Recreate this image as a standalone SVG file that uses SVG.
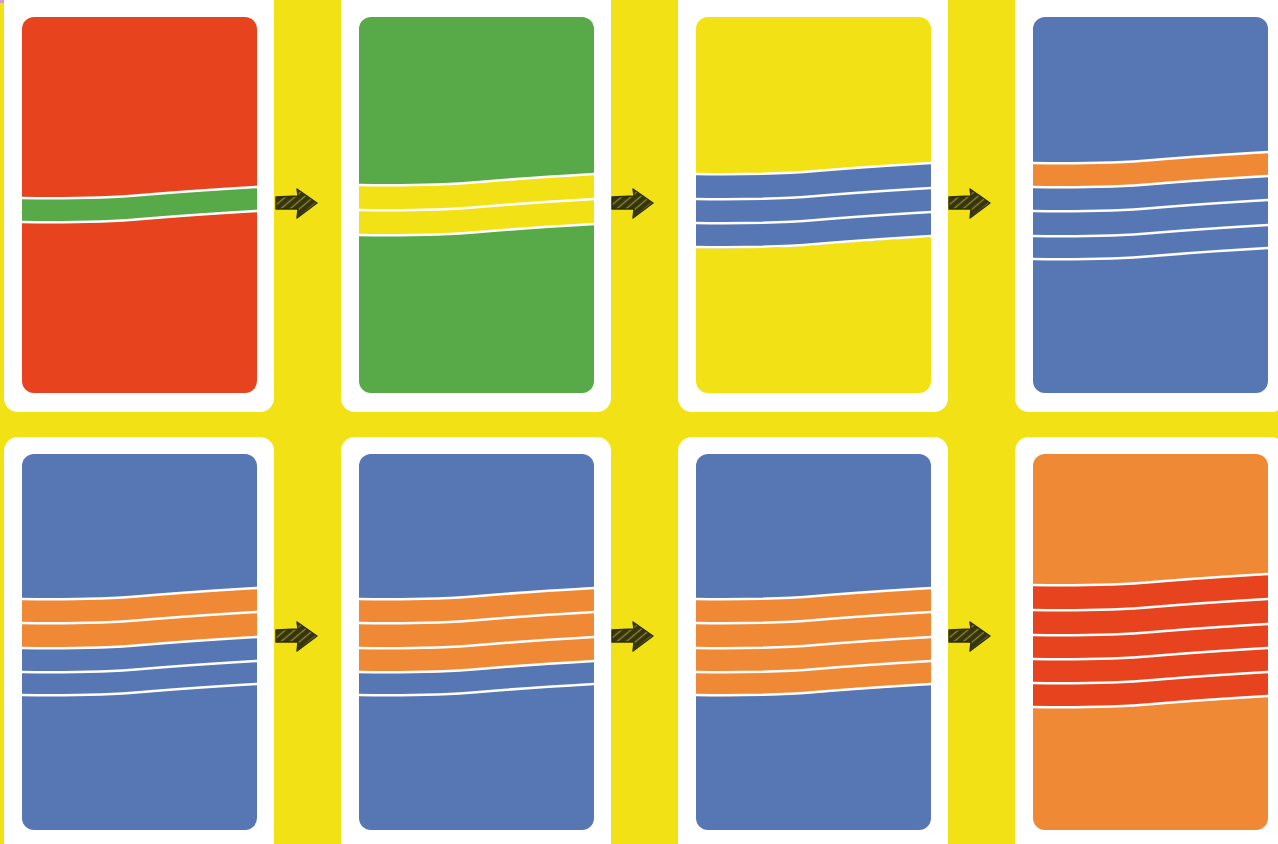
<svg xmlns="http://www.w3.org/2000/svg" xmlns:xlink="http://www.w3.org/1999/xlink" width="1278" height="844" viewBox="0 0 1278 844">
<style>
.outer{fill:#ffffff}
.red{fill:#E8431F}
.green{fill:#57AA47}
.yellow{fill:#F2E215}
.blue{fill:#5676B4}
.orange{fill:#EF8936}
.wl{fill:none;stroke:#ffffff;stroke-width:2.6;stroke-linecap:round}
</style>
<defs>
<path id="band" d="M0,0 C40,0.5 80,0.5 120,-3 C160,-6.5 200,-9 235,-11 L235,14 C200,16 160,18.5 120,22 C80,25.5 40,25.5 0,25 Z"/>
<path id="line" d="M0,0 C40,0.5 80,0.5 120,-3 C160,-6.5 200,-9 235,-11"/>
<pattern id="hatch" width="6" height="6" patternUnits="userSpaceOnUse" patternTransform="rotate(-40)">
<rect width="6" height="6" fill="#35340f"/>
<line x1="0" y1="1.5" x2="6" y2="1.5" stroke="#8c8a2e" stroke-width="1.3"/>
</pattern>
<g id="arrow">
<path d="M0,-6 L22,-7 L21,-14 L41,0 L21,15 L22,6 L0,6 Z" fill="url(#hatch)" stroke="#2f2e0c" stroke-width="1.4" stroke-linejoin="round"/>
</g>
</defs>
<rect width="1278" height="844" fill="#F2E215"/>
<rect x="0" y="0" width="42" height="3" fill="#d49ad0"/>

<g id="card1">
<rect class="outer" x="4" y="-14" width="270" height="426" rx="14"/>
<rect class="red" x="22" y="17" width="235" height="376" rx="12"/>
<use href="#band" class="green" x="22" y="198"/>
<use href="#line" class="wl" x="22" y="198"/>
<use href="#line" class="wl" x="22" y="222"/>
</g>

<g id="card2">
<rect class="outer" x="341" y="-14" width="270" height="426" rx="14"/>
<rect class="green" x="359" y="17" width="235" height="376" rx="12"/>
<use href="#band" class="yellow" x="359" y="185"/>
<use href="#band" class="yellow" x="359" y="210"/>
<use href="#line" class="wl" x="359" y="185"/>
<use href="#line" class="wl" x="359" y="210"/>
<use href="#line" class="wl" x="359" y="235"/>
</g>

<g id="card3">
<rect class="outer" x="678" y="-14" width="270" height="426" rx="14"/>
<rect class="yellow" x="696" y="17" width="235" height="376" rx="12"/>
<use href="#band" class="blue" x="696" y="174"/>
<use href="#band" class="blue" x="696" y="199"/>
<use href="#band" class="blue" x="696" y="223"/>
<use href="#line" class="wl" x="696" y="174"/>
<use href="#line" class="wl" x="696" y="199"/>
<use href="#line" class="wl" x="696" y="223"/>
<use href="#line" class="wl" x="696" y="247"/>
</g>

<g id="card4">
<rect class="outer" x="1015" y="-14" width="270" height="426" rx="14"/>
<rect class="blue" x="1033" y="17" width="235" height="376" rx="12"/>
<use href="#band" class="orange" x="1033" y="163"/>
<use href="#line" class="wl" x="1033" y="163"/>
<use href="#line" class="wl" x="1033" y="187"/>
<use href="#line" class="wl" x="1033" y="211"/>
<use href="#line" class="wl" x="1033" y="236"/>
<use href="#line" class="wl" x="1033" y="259"/>
</g>

<g id="card5">
<rect class="outer" x="4" y="437" width="270" height="430" rx="14"/>
<rect class="blue" x="22" y="454" width="235" height="376" rx="12"/>
<use href="#band" class="orange" x="22" y="599"/>
<use href="#band" class="orange" x="22" y="623"/>
<use href="#line" class="wl" x="22" y="599"/>
<use href="#line" class="wl" x="22" y="623"/>
<use href="#line" class="wl" x="22" y="648"/>
<use href="#line" class="wl" x="22" y="672"/>
<use href="#line" class="wl" x="22" y="695"/>
</g>

<g id="card6">
<rect class="outer" x="341" y="437" width="270" height="430" rx="14"/>
<rect class="blue" x="359" y="454" width="235" height="376" rx="12"/>
<use href="#band" class="orange" x="359" y="599"/>
<use href="#band" class="orange" x="359" y="623"/>
<use href="#band" class="orange" x="359" y="648"/>
<use href="#line" class="wl" x="359" y="599"/>
<use href="#line" class="wl" x="359" y="623"/>
<use href="#line" class="wl" x="359" y="648"/>
<use href="#line" class="wl" x="359" y="672"/>
<use href="#line" class="wl" x="359" y="695"/>
</g>

<g id="card7">
<rect class="outer" x="678" y="437" width="270" height="430" rx="14"/>
<rect class="blue" x="696" y="454" width="235" height="376" rx="12"/>
<use href="#band" class="orange" x="696" y="599"/>
<use href="#band" class="orange" x="696" y="623"/>
<use href="#band" class="orange" x="696" y="648"/>
<use href="#band" class="orange" x="696" y="671"/>
<use href="#line" class="wl" x="696" y="599"/>
<use href="#line" class="wl" x="696" y="623"/>
<use href="#line" class="wl" x="696" y="648"/>
<use href="#line" class="wl" x="696" y="672"/>
<use href="#line" class="wl" x="696" y="695"/>
</g>

<g id="card8">
<rect class="outer" x="1015" y="437" width="270" height="430" rx="14"/>
<rect class="orange" x="1033" y="454" width="235" height="376" rx="12"/>
<use href="#band" class="red" x="1033" y="585"/>
<use href="#band" class="red" x="1033" y="610"/>
<use href="#band" class="red" x="1033" y="635"/>
<use href="#band" class="red" x="1033" y="659"/>
<use href="#band" class="red" x="1033" y="682"/>
<use href="#line" class="wl" x="1033" y="585"/>
<use href="#line" class="wl" x="1033" y="610"/>
<use href="#line" class="wl" x="1033" y="635"/>
<use href="#line" class="wl" x="1033" y="659"/>
<use href="#line" class="wl" x="1033" y="683"/>
<use href="#line" class="wl" x="1033" y="707"/>
</g>

<g id="connectors">
<use href="#arrow" x="276" y="203"/>
<use href="#arrow" x="612" y="203"/>
<use href="#arrow" x="949" y="203"/>
<use href="#arrow" x="276" y="636"/>
<use href="#arrow" x="612" y="636"/>
<use href="#arrow" x="949" y="636"/>
</g>
</svg>
